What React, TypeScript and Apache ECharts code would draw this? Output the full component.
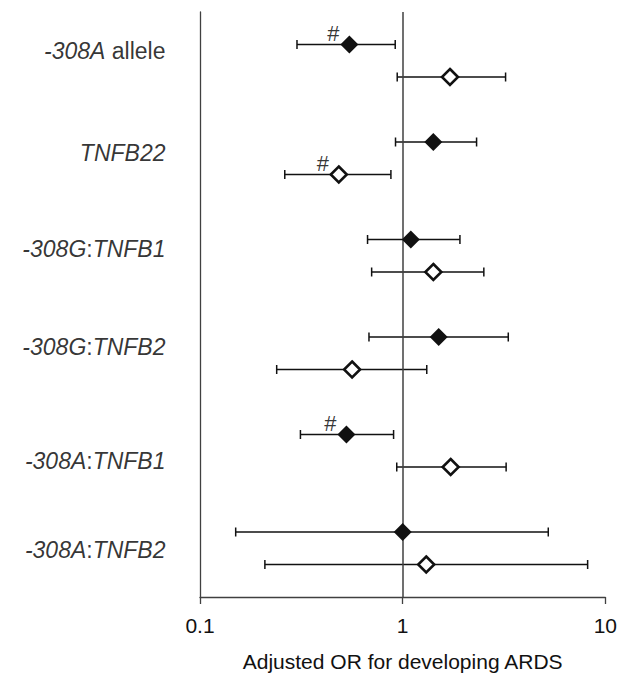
import React, { useEffect, useRef } from "react";
import * as echarts from "echarts";

// Category labels (rich text: i = italic, n = normal)
const categories = [
  "{i|-308A}{n| allele}",
  "{i|TNFB22}",
  "{i|-308G}{n|:}{i|TNFB1}",
  "{i|-308G}{n|:}{i|TNFB2}",
  "{i|-308A}{n|:}{i|TNFB1}",
  "{i|-308A}{n|:}{i|TNFB2}",
];
// Row position of each category label on the (inverted) y scale
const labelRow = [1.2, 4.35, 7.3, 10.3, 13.8, 16.55];

// Filled diamonds
const filledOR = [0.546, 1.417, 1.097, 1.506, 0.528, 1.0];
const filledLow = [0.301, 0.922, 0.671, 0.682, 0.313, 0.15];
const filledHigh = [0.919, 2.316, 1.917, 3.32, 0.902, 5.23];
const filledHash = [true, false, false, false, true, false];

// Open diamonds
const openOR = [1.712, 0.484, 1.417, 0.563, 1.725, 1.307];
const openLow = [0.94, 0.262, 0.703, 0.239, 0.935, 0.209];
const openHigh = [3.22, 0.875, 2.515, 1.315, 3.24, 8.18];
const openHash = [false, true, false, false, false, false];

const xTicks = [0.1, 1, 10];
const xTitle = "Adjusted OR for developing ARDS";

const FONT = "'Liberation Sans', Arial, Helvetica, sans-serif";
const INK = "#111111";
const AXIS = "#404040";

export default function App() {
  const ref = useRef<HTMLDivElement>(null);

  useEffect(() => {
    document.body.style.margin = "0";
    if (!ref.current) return;
    const chart = echarts.init(ref.current, null, { renderer: "svg" });

    const filledY = filledOR.map((_, k) => 1 + 3 * k);
    const openY = openOR.map((_, k) => 2 + 3 * k);

    const barData = [
      ...filledLow.map((lo, k) => [lo, filledHigh[k], filledY[k]]),
      ...openLow.map((lo, k) => [lo, openHigh[k], openY[k]]),
    ];

    const hashData = [
      ...filledOR.map((v, k) => (filledHash[k] ? [v, filledY[k]] : null)).filter(Boolean),
      ...openOR.map((v, k) => (openHash[k] ? [v, openY[k]] : null)).filter(Boolean),
    ];

    const option: any = {
      animation: false,
      grid: { left: 200, right: 13, top: 12, bottom: 74, containLabel: false },
      xAxis: {
        type: "log",
        logBase: 10,
        min: 0.1,
        max: 10,
        name: xTitle,
        nameLocation: "middle",
        nameGap: 54,
        nameTextStyle: { fontFamily: FONT, fontSize: 21, color: INK },
        axisLine: { show: true, onZero: false, lineStyle: { color: AXIS, width: 1.3 } },
        axisTick: { show: true, inside: false, length: 7, lineStyle: { color: AXIS, width: 1.3 } },
        minorTick: { show: false },
        splitLine: { show: false },
        axisLabel: {
          fontFamily: FONT,
          fontSize: 21,
          color: INK,
          margin: 18,
          showMinLabel: true,
          showMaxLabel: true,
          formatter: (v: number) => {
            const t = xTicks.find((x) => Math.abs(x - v) / x < 1e-6);
            return t === undefined ? "" : String(t);
          },
        },
      },
      yAxis: {
        type: "value",
        min: 0,
        max: 18,
        inverse: true,
        axisLine: { show: true, onZero: false, lineStyle: { color: AXIS, width: 1.3 } },
        axisTick: { show: false },
        axisLabel: { show: false },
        splitLine: { show: false },
      },
      series: [
        {
          type: "custom",
          name: "ci",
          data: barData,
          encode: { x: [0, 1], y: 2 },
          z: 2,
          renderItem: (params: any, api: any) => {
            const y = api.value(2);
            const p1 = api.coord([api.value(0), y]);
            const p2 = api.coord([api.value(1), y]);
            const h = 4.5;
            const style = { stroke: INK, lineWidth: 1.5, fill: "none" };
            return {
              type: "group",
              children: [
                { type: "line", shape: { x1: p1[0], y1: p1[1], x2: p2[0], y2: p2[1] }, style },
                { type: "line", shape: { x1: p1[0], y1: p1[1] - h, x2: p1[0], y2: p1[1] + h }, style },
                { type: "line", shape: { x1: p2[0], y1: p2[1] - h, x2: p2[0], y2: p2[1] + h }, style },
              ],
            };
          },
          markLine: {
            silent: true,
            symbol: ["none", "none"],
            label: { show: false },
            lineStyle: { color: AXIS, width: 1.5, type: "solid" },
            data: [{ xAxis: 1 }],
          },
        },
        {
          type: "scatter",
          name: "filled",
          z: 5,
          symbol: "diamond",
          symbolSize: 18,
          itemStyle: { color: INK, opacity: 1 },
          data: filledOR.map((v, k) => [v, filledY[k]]),
        },
        {
          type: "scatter",
          name: "open",
          z: 5,
          symbol: "diamond",
          symbolSize: 16,
          itemStyle: { color: "#ffffff", borderColor: INK, borderWidth: 2.6, opacity: 1 },
          data: openOR.map((v, k) => [v, openY[k]]),
        },
        {
          type: "scatter",
          name: "hash",
          z: 6,
          symbol: "circle",
          symbolSize: 1,
          itemStyle: { color: "rgba(0,0,0,0)" },
          label: {
            show: true,
            position: "inside",
            offset: [-16, -11],
            formatter: "#",
            fontFamily: FONT,
            fontSize: 22,
            color: "#000",
          },
          data: hashData,
        },
        {
          type: "scatter",
          name: "labels",
          z: 6,
          symbol: "circle",
          symbolSize: 1,
          itemStyle: { color: "rgba(0,0,0,0)" },
          label: {
            show: true,
            position: "left",
            distance: 34,
            color: "#000",
            formatter: (p: any) => categories[p.dataIndex],
            rich: {
              i: { fontFamily: FONT, fontSize: 23, fontStyle: "italic", color: "#000" },
              n: { fontFamily: FONT, fontSize: 23, color: "#000" },
            },
          },
          data: labelRow.map((r) => [0.1, r]),
        },
      ],
    };

    chart.setOption(option);
    return () => chart.dispose();
  }, []);

  return <div ref={ref} style={{ width: 620, height: 677 }} />;
}
